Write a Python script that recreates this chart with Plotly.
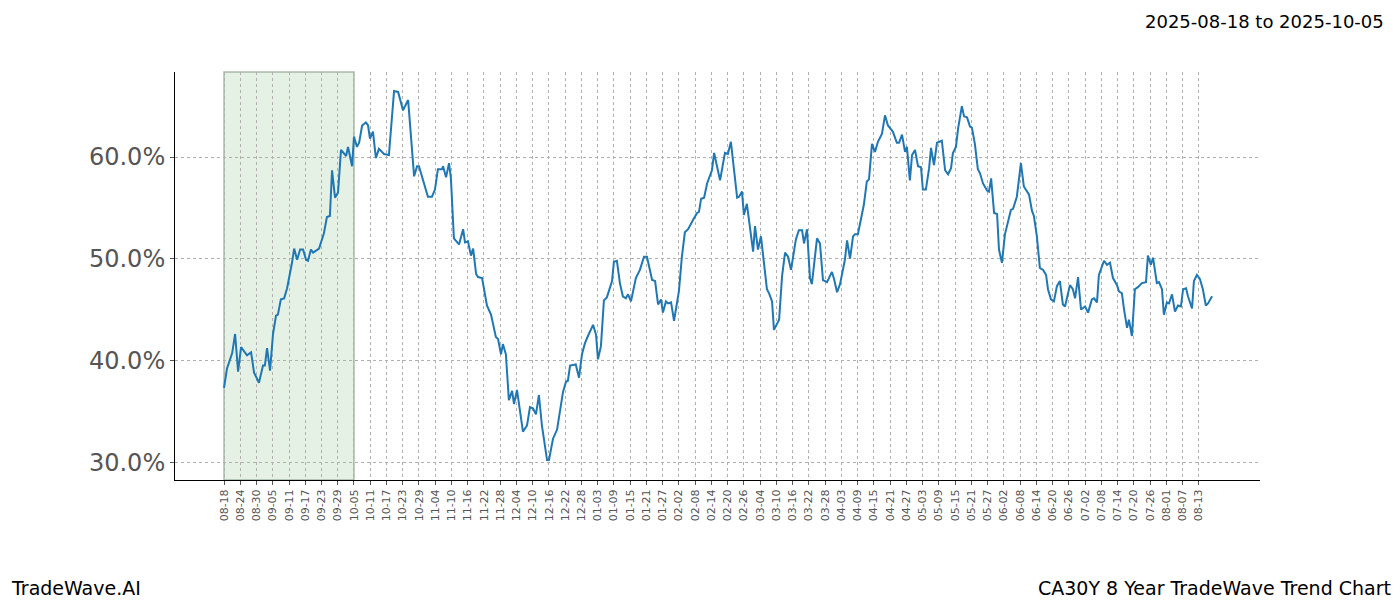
import pandas as pd
import plotly.graph_objects as go

start = "2025-08-18"
days = [0,1.1,3.0,4.1,5.2,6.3,8.5,10.0,11.1,12.9,14.4,15.1,15.9,17.0,18.1,19.2,19.9,21.0,22.2,23.3,25.1,25.9,27.0,28.1,29.2,30.3,31.0,32.1,32.9,34.3,35.1,36.9,38.0,39.1,39.9,41.0,42.1,43.2,45.1,45.8,47.3,48.0,49.1,49.9,51.0,52.4,53.2,53.9,55.0,56.1,57.2,59.1,60.9,62.8,64.3,66.1,68.0,70.2,71.3,72.0,73.1,73.9,75.3,76.8,77.9,79.0,80.5,80.9,82.0,83.1,83.8,84.9,86.8,88.3,89.0,90.1,91.2,92.0,93.1,93.8,95.3,97.1,98.6,100.4,101.2,102.3,103.0,104.1,105.2,106.4,107.1,108.2,110.4,111.9,113.0,114.1,115.2,116.3,117.4,119.3,120.0,121.5,123.0,125.2,126.3,127.0,127.8,129.9,131.1,132.2,133.3,134.4,136.3,137.4,138.1,139.2,140.3,141.4,143.3,144.0,145.1,146.2,147.3,148.4,149.2,150.3,152.1,153.6,155.1,156.2,157.3,158.1,159.2,160.3,161.4,162.1,163.2,164.0,165.1,166.2,168.0,169.1,170.2,171.4,173.2,174.7,175.4,176.2,177.3,178.4,180.2,181.0,183.2,185.0,186.1,187.2,189.5,190.2,191.3,192.0,193.1,195.4,196.1,197.2,198.3,200.5,201.3,202.4,203.1,205.0,206.1,207.2,208.3,209.4,211.2,212.3,213.5,214.2,215.3,216.4,217.1,219.0,220.1,221.2,222.7,224.5,225.3,226.4,227.5,228.6,229.3,230.1,231.2,232.3,233.0,234.1,235.6,236.3,237.4,238.2,239.3,240.4,241.5,243.0,244.1,245.2,247.0,248.5,249.3,250.4,251.5,252.2,253.3,254.1,255.2,256.3,257.4,258.1,259.2,260.4,261.1,262.2,263.3,265.1,266.3,267.4,268.5,269.2,270.3,271.1,272.5,273.3,274.4,275.5,276.2,277.3,278.4,279.2,280.3,281.8,282.5,283.3,284.4,285.5,286.2,287.3,288.4,289.5,290.6,291.4,292.8,294.3,295.4,297.3,298.4,299.1,300.2,301.3,302.5,303.6,304.3,305.4,306.5,307.6,308.7,309.8,310.6,312.4,313.5,314.3,315.4,316.5,318.0,319.1,320.5,321.3,322.4,323.1,325.0,326.1,327.2,328.3,329.8,330.5,331.6,332.4,333.5,334.2,335.3,336.4,337.5,339.0,340.5,341.2,342.3,343.1,344.5,345.3,346.4,347.1,348.2,349.0,350.1,351.2,352.3,353.4,354.2,355.3,356.0,357.5,358.2,359.3,360.4,361.5,362.6,363.4,364.9]
values = [37.3,39.2,40.7,42.6,38.9,41.3,40.5,40.8,38.8,37.8,39.5,39.5,41.2,39.0,42.6,44.4,44.5,46.0,46.1,47.1,49.6,51.0,49.9,50.9,50.9,49.9,49.8,50.9,50.6,50.9,51.0,52.5,54.1,54.2,58.7,56.0,56.5,60.7,60.1,61.0,59.1,62.0,61.0,61.4,63.1,63.4,63.1,61.8,62.5,59.9,60.8,60.3,60.2,66.5,66.4,64.6,65.6,58.1,59.1,59.1,58.1,57.6,56.1,56.1,56.8,58.8,58.8,59.1,58.0,59.4,57.9,52.0,51.4,52.9,51.6,51.7,50.3,51.0,48.5,48.2,48.1,45.4,44.5,42.3,42.1,40.6,41.6,40.6,36.1,37.0,35.7,37.1,33.0,33.6,35.4,35.3,34.7,36.6,33.6,30.2,30.2,32.3,33.2,36.9,37.9,38.0,39.5,39.6,38.3,40.6,41.7,42.4,43.5,42.5,40.1,41.4,45.9,46.2,47.8,49.7,49.8,47.6,46.3,46.1,46.5,45.8,48.1,48.9,50.2,50.2,48.9,47.9,47.8,45.5,46.0,44.7,45.8,45.6,45.7,43.9,46.8,50.2,52.6,52.9,53.8,54.5,54.6,55.9,56.0,57.4,58.7,60.4,57.7,60.4,60.3,61.5,56.0,56.1,56.6,54.3,55.4,50.7,53.2,50.9,52.2,47.0,46.6,45.8,43.0,44.0,48.3,50.6,50.2,48.9,51.9,52.8,52.8,51.5,52.9,48.1,47.5,52.0,51.5,47.9,47.7,48.7,48.0,46.7,47.5,49.2,49.9,51.8,50.0,52.2,52.4,52.4,54.3,55.3,57.6,57.8,61.3,60.5,61.5,62.3,64.1,63.1,62.5,61.4,61.4,62.2,60.5,61.0,57.7,60.2,60.7,59.1,59.0,56.8,56.8,58.9,60.9,59.2,61.4,61.6,58.7,58.3,58.9,60.4,61.0,62.8,65.0,64.0,63.9,63.0,62.9,61.3,58.8,58.4,57.4,56.7,56.6,57.9,54.5,54.4,50.9,49.6,52.4,53.5,54.8,54.9,56.1,59.4,57.1,56.3,54.7,54.2,52.2,49.1,48.9,48.4,47.0,46.0,45.8,47.3,47.8,45.5,45.3,47.4,47.0,46.1,48.2,45.0,45.3,44.7,46.0,46.1,45.7,48.4,49.8,49.4,49.6,48.1,47.4,46.8,46.6,45.0,43.2,44.0,42.4,47.0,47.2,47.6,47.7,50.3,49.4,50.1,47.6,47.7,47.0,44.5,45.7,45.6,46.5,44.8,45.4,45.3,47.0,47.1,46.3,45.1,47.8,48.4,48.0,47.0,45.4,45.6,46.3]
yticks = [30, 40, 50, 60]
highlight = ("2025-08-18", "2025-10-05")

t0 = pd.Timestamp(start)
x = [t0 + pd.Timedelta(days=d) for d in days]
tickvals = pd.date_range(start, periods=61, freq="6D")
ticktext = [t.strftime("%m-%d") for t in tickvals]

fig = go.Figure()
fig.add_vrect(x0=highlight[0], x1=highlight[1], fillcolor="rgba(200,225,200,0.45)",
              line=dict(color="rgba(150,170,150,0.8)", width=1.5), layer="below")
fig.add_trace(go.Scatter(x=x, y=[v / 100 for v in values], mode="lines",
                         line=dict(color="#1f77b4", width=2), showlegend=False))
fig.update_layout(
    width=1392, height=592, plot_bgcolor="white", paper_bgcolor="white",
    margin=dict(l=167, r=140, t=64, b=120, autoexpand=False),
    font=dict(family="DejaVu Sans"),
)
fig.update_xaxes(
    range=[t0 - pd.Timedelta(days=18.1), t0 + pd.Timedelta(days=382.6)],
    tickvals=tickvals, ticktext=ticktext, tickangle=-90, automargin=False,
    tickfont=dict(size=11, color="#555"), showgrid=True, gridcolor="#b0b0b0",
    griddash="dot", gridwidth=0.7, showline=True, linecolor="black",
    ticks="outside", ticklen=4, tickcolor="#555", zeroline=False,
)
fig.update_yaxes(
    range=[0.2824, 0.6836], tickvals=[v / 100 for v in yticks], automargin=False,
    ticktext=[f"{v:.1f}%" for v in yticks], tickfont=dict(size=24, color="#555"),
    showgrid=True, gridcolor="#b0b0b0", griddash="dot", gridwidth=0.7,
    showline=True, linecolor="black", ticks="outside", ticklen=4, tickcolor="#555",
    zeroline=False,
)
fig.add_annotation(text="2025-08-18 to 2025-10-05", xref="paper", yref="paper",
                   x=1.116, y=1.125, xanchor="right", yanchor="middle", showarrow=False,
                   font=dict(size=18, color="black"))
fig.add_annotation(text="TradeWave.AI", xref="paper", yref="paper", x=-0.153, y=-0.265,
                   xanchor="left", yanchor="middle", showarrow=False, font=dict(size=19, color="black"))
fig.add_annotation(text="CA30Y 8 Year TradeWave Trend Chart", xref="paper", yref="paper",
                   x=1.1226, y=-0.265, xanchor="right", yanchor="middle", showarrow=False,
                   font=dict(size=19, color="black"))
fig.write_html("out.html")
